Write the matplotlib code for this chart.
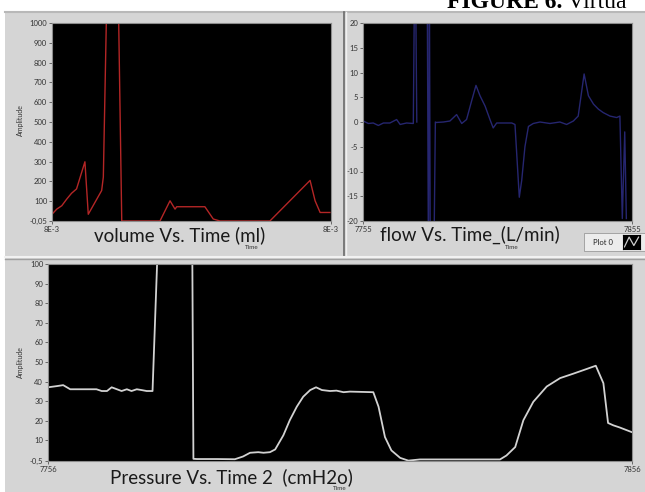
import numpy as np
import matplotlib.pyplot as plt
from matplotlib.lines import Line2D
from matplotlib.patches import Rectangle

# volume trace (ml); time as % of the display window
vol_t = [0, 1.7, 3.5, 5.3, 7.0, 8.8, 11.8, 13.0, 17.8, 18.4, 19.6, 23.8, 25.0,
         38.7, 42.3, 44.1, 44.7, 54.8, 57.8, 60.2, 78.1, 92.5, 94.3, 96.1, 99.6]
vol_v = [34, 60, 77, 111, 140, 162, 299, 34, 154, 222, 1100, 1100, 0,
         0, 102, 60, 72, 72, 10, 0, 0, 205, 102, 43, 43]

# flow trace (L/min)
flow_t = [0.1, 2.0, 3.8, 5.7, 7.6, 10.0, 12.5, 13.8, 16.2, 18.7, 19.1, 19.6, 20.0, np.nan,
          23.9, 24.3, 24.7, 25.0, 26.4, 26.9, 27.1, 29.9, 32.3, 34.8, 36.7, 38.5, 40.4,
          42.0, 43.5, 45.4, 47.2, 48.4, 49.7, 52.2, 55.3, 56.5, 58.1, 59.0, 60.2, 61.5,
          63.3, 65.8, 69.5, 73.2, 75.7, 78.2, 80.0, 82.2, 83.8, 85.7, 87.5, 89.3, 91.8,
          94.3, 95.5, 96.4, 97.3, 97.9]
flow_v = [0.2, -0.3, -0.2, -0.7, -0.2, -0.2, 0.5, -0.5, -0.2, -0.3, 25, 25, 0, np.nan,
          25, -25, 25, -25, -25, 0, -0.1, 0.0, 0.2, 1.5, -0.3, 0.5, 4.3,
          7.4, 5.3, 3.2, 0.5, -1.2, -0.2, -0.2, -0.2, -0.5, -15.2, -11.8, -5.0, -0.9,
          -0.3, 0.0, -0.3, 0.0, -0.5, 0.2, 1.2, 9.7, 5.3, 3.6, 2.6, 1.9, 1.2,
          0.9, 1.2, -19.5, -2.0, -19.5]

# pressure trace (cmH2o)
pres_t = [0, 1.5, 2.6, 3.8, 6.0, 8.3, 9.2, 10.1, 10.9, 11.8, 12.6, 13.5, 14.3, 15.2, 16.0,
          16.9, 17.9, 18.8, 24.7, 24.9, 25.5, 28.9, 32.0, 33.4, 34.6, 36.0, 36.9, 38.0, 38.9,
          40.3, 41.4, 42.6, 43.7, 44.9, 45.9, 46.9, 48.3, 49.4, 50.6, 51.7, 55.7, 56.6, 57.7,
          58.8, 60.3, 61.7, 63.7, 69.4, 77.4, 78.5, 80.0, 81.4, 83.1, 85.4, 87.7, 89.9, 92.2,
          93.8, 95.1, 95.9, 96.8, 97.9, 99.9]
pres_v = [37.1, 37.7, 38.2, 36.1, 36.1, 36.1, 35.2, 35.2, 37.1, 36.1, 35.2, 36.1, 35.2, 36.1, 35.7,
          35.2, 35.2, 110, 110, 0.6, 0.5, 0.5, 0.4, 1.8, 3.7, 4.0, 3.7, 4.0, 5.4,
          12.6, 20.3, 27.2, 32.3, 35.7, 37.1, 35.7, 35.2, 35.4, 34.6, 34.9, 34.6, 27.2, 11.7,
          4.9, 1.1, -0.3, 0.3, 0.3, 0.3, 2.3, 6.6, 20.3, 29.7, 37.5, 41.8, 44.0, 46.4,
          48.1, 39.2, 18.9, 17.7, 16.6, 14.3]

vol_yticks = [-0.05, 100, 200, 300, 400, 500, 600, 700, 800, 900, 1000]
vol_ylabels = ['-0,05', '100', '200', '300', '400', '500', '600', '700', '800', '900', '1000']
flow_yticks = [-20, -15, -10, -5, 0, 5, 10, 15, 20]
pres_yticks = [-0.5, 10, 20, 30, 40, 50, 60, 70, 80, 90, 100]
pres_ylabels = ['-0,5', '10', '20', '30', '40', '50', '60', '70', '80', '90', '100']

W, H = 645, 492
sans = ['Lato', 'DejaVu Sans']
bg = '#d5d5d5'

fig = plt.figure(figsize=(W / 100, H / 100), dpi=100, facecolor=bg)


def px_axes(l, t, r, b):
    return fig.add_axes([l / W, 1 - b / H, (r - l) / W, (b - t) / H])


def fx(x):
    return x / W


def fy(y):
    return 1 - y / H


# white page strips (top and left) and the cropped caption
fig.patches.append(Rectangle((0, fy(11)), 1, 11 / H, transform=fig.transFigure,
                             facecolor='white', edgecolor='none', zorder=0))
fig.patches.append(Rectangle((0, 0), fx(5), 1, transform=fig.transFigure,
                             facecolor='white', edgecolor='none', zorder=0))
cap = fig.text(fx(447), fy(8), 'FIGURE 6.', family='Liberation Serif', weight='bold',
               fontsize=17, va='baseline', ha='left')
fig.add_artist(plt.Annotation(' Virtua', xy=(1, 0), xycoords=cap, va='bottom', ha='left',
                              family='Liberation Serif', fontsize=17))

# panel separators
fig.add_artist(Line2D([fx(5), 1], [fy(12), fy(12)], color='#b8b8b8', lw=1.5))
fig.add_artist(Line2D([fx(344), fx(344)], [fy(257), fy(12)], color='#6a6a6a', lw=1.2))
fig.add_artist(Line2D([fx(346), fx(346)], [fy(257), fy(12)], color='#f0f0f0', lw=1.0))
fig.add_artist(Line2D([fx(5), 1], [fy(257), fy(257)], color='#f2f2f2', lw=1.5))
fig.add_artist(Line2D([fx(5), 1], [fy(259), fy(259)], color='#a0a0a0', lw=1.0))


def style(ax, yt, yl, xl, ylim):
    ax.set_facecolor('black')
    ax.set_xlim(0, 100)
    ax.set_ylim(*ylim)
    ax.set_yticks(yt)
    ax.set_yticklabels(yl)
    ax.set_xticks([0, 100])
    ax.set_xticklabels(xl)
    ax.tick_params(length=2.5, width=0.6, color='#555555', labelsize=5.5,
                   labelcolor='#333333', pad=1)
    for lab in ax.get_xticklabels() + ax.get_yticklabels():
        lab.set_family(sans)
    for s in ax.spines.values():
        s.set_color('#8c8c8c')
        s.set_linewidth(0.8)


# volume
ax1 = px_axes(52, 23, 331, 221)
ax1.plot(vol_t, vol_v, color='#b42626', lw=1.0)
style(ax1, vol_yticks, vol_ylabels, ['8E-3', '8E-3'], (-0.05, 1000))
fig.text(fx(20), fy(120), 'Amplitude', rotation=90, fontsize=5, family=sans,
         color='#333333', ha='center', va='center')
fig.text(fx(180), fy(235), 'volume Vs. Time (ml)', fontsize=13.5, family=sans,
         color='#1a1a1a', ha='center', va='center')
fig.text(fx(252), fy(248), 'Time', fontsize=4.5, family=sans,
         color='#333333', ha='center', va='center')

# flow
ax2 = px_axes(363, 23, 632, 221)
ax2.plot(flow_t, flow_v, color='#262670', lw=1.0)
style(ax2, flow_yticks, [str(v) for v in flow_yticks], ['7755', '7855'], (-20, 20))
fig.text(fx(470), fy(235), 'flow Vs. Time_(L/min)', fontsize=13.5, family=sans,
         color='#1a1a1a', ha='center', va='center')
fig.text(fx(512), fy(248), 'Time', fontsize=4.5, family=sans,
         color='#333333', ha='center', va='center')

# legend box "Plot 0"
fig.patches.append(Rectangle((fx(584), fy(251)), fx(645 - 584), 18 / H,
                             transform=fig.transFigure, facecolor='#ececec',
                             edgecolor='#9a9a9a', lw=0.6, zorder=1))
fig.text(fx(603), fy(242), 'Plot 0', fontsize=5.5, family=sans,
         color='#222222', ha='center', va='center')
axl = px_axes(623, 235, 640, 249)
axl.set_zorder(3)
axl.set_facecolor('black')
axl.plot([0, 1, 2, 3], [0.15, 0.85, 0.25, 0.85], color='#cfcfcf', lw=0.9)
axl.set_xlim(-0.3, 3.3)
axl.set_ylim(0, 1)
axl.set_xticks([])
axl.set_yticks([])

# pressure
ax3 = px_axes(48, 264, 632, 461)
ax3.plot(pres_t, pres_v, color='#d2d2d2', lw=1.3)
style(ax3, pres_yticks, pres_ylabels, ['7756', '7856'], (-0.5, 100))
fig.text(fx(20), fy(362), 'Amplitude', rotation=90, fontsize=5, family=sans,
         color='#333333', ha='center', va='center')
fig.text(fx(231), fy(477), 'Pressure Vs. Time 2  (cmH2o)', fontsize=13.5, family=sans,
         color='#1a1a1a', ha='center', va='center')
fig.text(fx(340), fy(489), 'Time', fontsize=4.5, family=sans,
         color='#333333', ha='center', va='center')

fig.savefig('out.png', dpi=100, facecolor=bg)
